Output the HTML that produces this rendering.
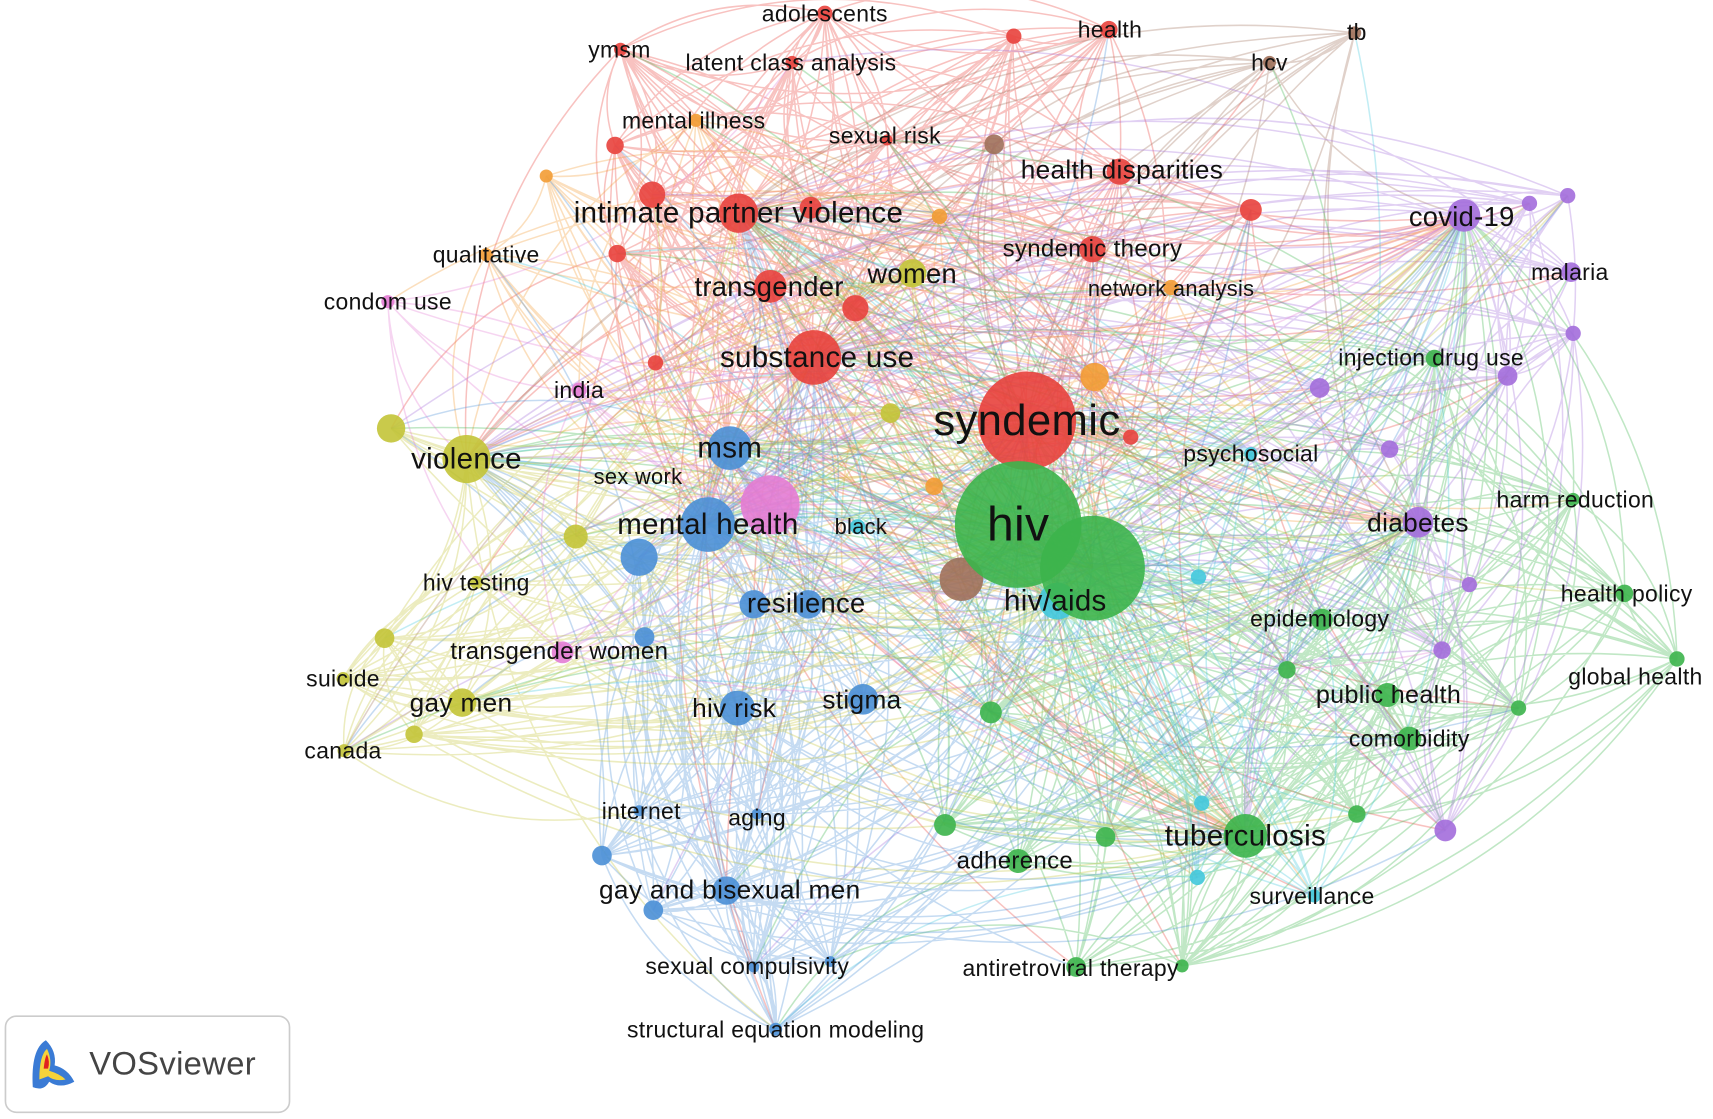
<!DOCTYPE html>
<html><head><meta charset="utf-8"><style>
html,body{margin:0;padding:0;background:#fff;}
svg{display:block;}
text{font-family:"Liberation Sans",sans-serif;fill:#111;text-anchor:middle;dominant-baseline:central;letter-spacing:0.3px;}
</style></head><body>
<svg id="s" width="1713" height="1119" viewBox="0 0 1568 1024" xmlns="http://www.w3.org/2000/svg">
<g id="edges"></g><g id="nodes"></g><g id="labels"></g>
<rect x="5" y="930" width="260" height="88" rx="10" fill="#fff" stroke="#ccc" stroke-width="1.5"/>
<path d="M30 995 Q28 960 42 952 Q52 962 50 975 Q62 978 68 990 Q55 997 45 990 Q40 999 30 995Z" fill="#3a7bd5"/>
<path d="M36 988 Q36 966 43 960 Q48 970 45 980 Q55 983 60 988 Q50 990 44 985Z" fill="#f5d33a"/>
<path d="M40 978 Q41 968 43 965 Q46 972 44 978Z" fill="#e02020"/>
<text x="158" y="973" style="font-size:30px;fill:#444">VOSviewer</text>
</svg>
<script>
const C={r:"#e8413c",o:"#f39c34",b:"#a0705a",g:"#3cb44b",c:"#42c8dc",p:"#a36ddb",u:"#4a8fd6",y:"#c3c437",k:"#e37bd4"};
const N=[
["r",940,385,45],["r",745,327,25],["r",676,195,18],["r",705,262,15],["r",1025,157,12],["r",1000,228,12],["r",812,128,5],["r",755,12,7],["r",725,57,6],["r",568,45,6],["r",1015,27,8],["r",928,33,7],["r",563,133,8],["r",597,178,12],["r",742,190,10],["r",783,282,12],["r",565,232,8],["r",600,332,7],["r",1145,192,10],["r",1035,400,7],
["o",637,110,6],["o",500,161,6],["o",445,233,6],["o",860,198,7],["o",1072,263,7],["o",1002,345,13],["o",855,445,8],
["b",1162,57,6],["b",1240,30,6],["b",910,132,9],["b",880,530,20],
["g",1000,520,48],["g",932,480,58],["g",1140,765,20],["g",1210,567,10],["g",1270,636,11],["g",1290,676,11],["g",1313,328,8],["g",1440,457,6],["g",1487,543,8],["g",1535,603,7],["g",932,788,11],["g",985,885,9],["g",907,652,10],["g",865,755,10],["g",1012,766,9],["g",1178,613,8],["g",1242,745,8],["g",1390,648,7],["g",1082,884,6],
["c",968,550,17],["c",1145,415,6],["c",785,482,7],["c",1097,528,7],["c",1100,735,7],["c",1096,803,7],["c",1203,820,6],
["p",1340,197,15],["p",1438,249,9],["p",1298,478,14],["p",1400,186,7],["p",1435,179,7],["p",1440,305,7],["p",1380,344,9],["p",1208,355,9],["p",1272,411,8],["p",1345,535,7],["p",1320,595,8],["p",1323,760,10],
["u",648,480,25],["u",668,410,20],["u",690,553,13],["u",740,553,13],["u",790,640,14],["u",675,648,16],["u",585,510,17],["u",590,583,9],["u",665,815,13],["u",551,783,9],["u",598,833,9],["u",585,742,5],["u",693,745,5],["u",690,885,5],["u",760,880,5],["u",710,942,6],
["y",427,420,22],["y",358,392,13],["y",835,250,13],["y",527,491,11],["y",436,533,6],["y",352,584,9],["y",314,621,6],["y",423,643,13],["y",379,672,8],["y",315,687,6],["y",815,378,9],
["k",705,462,27],["k",355,276,6],["k",530,357,7],["k",515,597,10]
];
const L=[
["syndemic",940,385,40],["hiv",932,480,44],["substance use",748,327,27],["intimate partner violence",676,195,27],["transgender",704,262,25],["women",835,250,25],["health disparities",1027,155,24],["syndemic theory",1000,228,22],["network analysis",1072,264,20],["sexual risk",810,124,21],["adolescents",755,12,21],["latent class analysis",724,57,21],["ymsm",567,45,21],["health",1016,27,21],["hcv",1162,57,21],["tb",1242,29,21],["mental illness",635,110,21],["qualitative",445,233,21],["condom use",355,276,21],["india",530,357,21],["covid-19",1338,198,25],["malaria",1437,249,21],["injection drug use",1310,327,21],["psychosocial",1145,415,21],["harm reduction",1442,457,21],["diabetes",1298,478,24],["health policy",1489,543,21],["epidemiology",1208,566,21],["global health",1497,619,21],["public health",1271,636,23],["comorbidity",1290,676,21],["tuberculosis",1140,765,27],["surveillance",1201,820,21],["adherence",929,788,22],["antiretroviral therapy",980,886,21],["hiv/aids",966,550,27],["msm",668,410,27],["violence",427,420,27],["sex work",584,436,20],["mental health",648,480,27],["black",788,482,20],["hiv testing",436,533,21],["resilience",738,552,25],["transgender women",512,596,22],["suicide",314,621,21],["gay men",422,643,24],["hiv risk",672,648,24],["stigma",789,640,24],["canada",314,687,21],["internet",587,742,21],["aging",693,748,21],["gay and bisexual men",668,814,24],["sexual compulsivity",684,884,21],["structural equation modeling",710,942,21]
];
const ns="http://www.w3.org/2000/svg";
let seed=7;function rnd(){seed=(seed*16807)%2147483647;return seed/2147483647;}
const E=document.getElementById("edges"),NG=document.getElementById("nodes"),LG=document.getElementById("labels");
const hubs=[0,1,2,31,32,69,70,85,50,57,59,33];
const paths={};
function edge(a,b){const A=N[a],B=N[b];const mx=(A[1]+B[1])/2,my=(A[2]+B[2])/2;const dx=B[1]-A[1],dy=B[2]-A[2];const k=0.22;
 const cx=mx-dy*k,cy=my+dx*k;(paths[A[0]]=paths[A[0]]||[]).push(`M${A[1]} ${A[2]}Q${cx} ${cy} ${B[1]} ${B[2]}`);}
for(let i=0;i<N.length;i++){
 for(const h of hubs){if(h!==i&&rnd()<0.5)edge(i,h);}
 for(let j=0;j<2;j++){const t=Math.floor(rnd()*N.length);if(t!==i)edge(i,t);}
 for(let j=0;j<N.length;j++){if(j!==i&&N[j][0]===N[i][0]&&rnd()<0.35)edge(i,j);}
}
for(const c in paths){const p=document.createElementNS(ns,"path");p.setAttribute("d",paths[c].join(""));p.setAttribute("fill","none");p.setAttribute("stroke",C[c]);p.setAttribute("stroke-opacity","0.32");p.setAttribute("stroke-width","1.4");E.appendChild(p);}
const order=N.map((n,i)=>i).sort((a,b)=>N[a][3]-N[b][3]);
for(const i of order){const n=N[i];const c=document.createElementNS(ns,"circle");c.setAttribute("cx",n[1]);c.setAttribute("cy",n[2]);c.setAttribute("r",n[3]);c.setAttribute("fill",C[n[0]]);c.setAttribute("fill-opacity","0.9");NG.appendChild(c);}
for(const l of L){const t=document.createElementNS(ns,"text");t.setAttribute("x",l[1]);t.setAttribute("y",l[2]);t.style.fontSize=l[3]+"px";t.textContent=l[0];LG.appendChild(t);}
</script>
</body></html>
